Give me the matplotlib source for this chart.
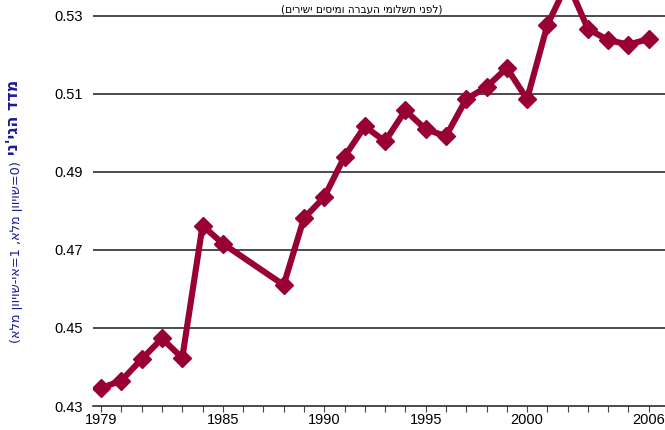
import matplotlib
matplotlib.use("Agg")
from matplotlib import pyplot as plt

## Data ##
years = [1979, 1980, 1981, 1982, 1983, 1984, 1985,
         1988, 1989, 1990, 1991, 1992, 1993, 1994, 1995, 1996, 1997,
         1998, 1999, 2000, 2001, 2002, 2003, 2004, 2005, 2006]
gini = [0.4346, 0.4365, 0.4420, 0.4473, 0.4423, 0.4762, 0.4716,
        0.4610, 0.4781, 0.4835, 0.4939, 0.5016, 0.4978, 0.5057, 0.5009, 0.4991, 0.5086,
        0.5117, 0.5166, 0.5086, 0.5276, 0.5385, 0.5266, 0.5237, 0.5226, 0.5240]
yticks = [0.43, 0.45, 0.47, 0.49, 0.51, 0.53]
xticks = [1979, 1985, 1990, 1995, 2000, 2006]

# hebrew strings are stored in visual (left to right) order, matplotlib has no bidi
subtitle = "(םירישי םיסימו הרבעה ימולשת ינפל)"
ylabel_bold = "ינ'יגה דדמ"
ylabel_note = "(אלמ ןוויוש-יא=1 ,אלמ ןוויוש=0)"

LINE_COLOR = "#990033"
LABEL_COLOR = "#1a1a9a"

plt.rcParams['font.family'] = ['Liberation Sans', 'DejaVu Sans']

fig = plt.figure(figsize=(6.65, 4.3), dpi=100)
ax = fig.add_axes([93 / 665, 24 / 430, 1 - 93 / 665, 1 - 24 / 430])

for y in yticks[1:]:
    ax.axhline(y, color="#1a1a1a", lw=1.1, zorder=1)

ax.plot(years, gini, color=LINE_COLOR, lw=4.4, marker="D", ms=9,
        solid_joinstyle="round", zorder=3)

ax.set_xlim(1978.6, 2006.8)
ax.set_ylim(0.43, 0.534)
ax.set_yticks(yticks)
ax.set_yticklabels([f"{v:.2f}" for v in yticks], fontsize=10.5)
ax.set_xticks(xticks)
ax.set_xticklabels([str(v) for v in xticks], fontsize=10.5)
ax.set_xticks(range(1979, 2007), minor=True)
ax.tick_params(axis="y", length=0, pad=7)
ax.tick_params(axis="x", which="both", direction="out", length=4, width=0.8, pad=1, color="#444444")

for side in ["top", "left", "right"]:
    ax.spines[side].set_visible(False)
ax.spines["bottom"].set_color("#1a1a1a")
ax.spines["bottom"].set_linewidth(1.1)

fig.text(362 / 665, 1 - 9 / 430, subtitle, fontsize=7.6, ha="center", va="center",
         family="DejaVu Sans")
fig.text(13 / 665, 1 - 117 / 430, ylabel_bold, fontsize=11.5, fontweight="bold",
         rotation=90, ha="center", va="center", color=LABEL_COLOR, family="DejaVu Sans")
fig.text(17 / 665, 1 - 252 / 430, ylabel_note, fontsize=9.3,
         rotation=90, ha="center", va="center", color=LABEL_COLOR, family="DejaVu Sans")

fig.savefig("out.png", dpi=100)
